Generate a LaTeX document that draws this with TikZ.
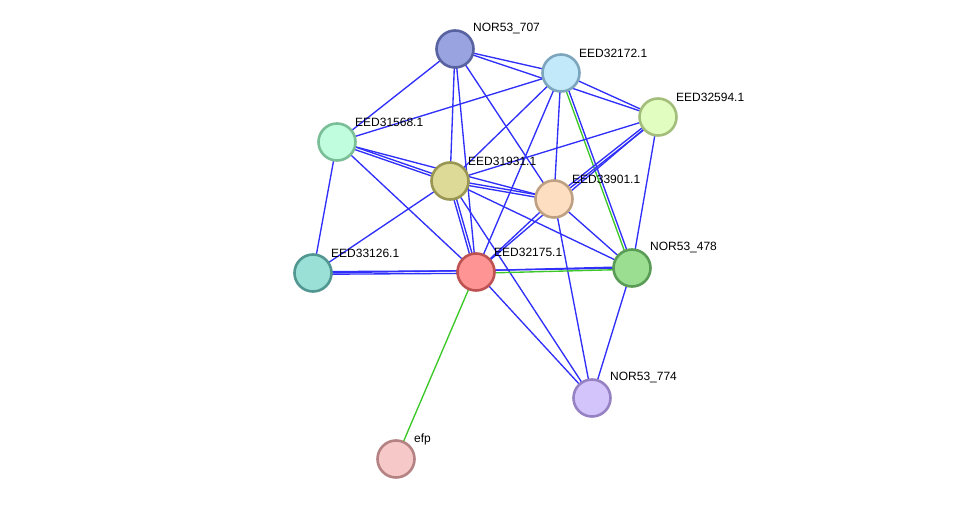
\documentclass[tikz,border=0pt]{standalone}
\usepackage{fontspec}
\setmainfont{Liberation Sans}
\usetikzlibrary{calc,backgrounds}
\definecolor{edgeblue}{RGB}{48,48,250}
\definecolor{edgegreen}{RGB}{60,200,40}
\definecolor{f707}{RGB}{153,163,224}\definecolor{b707}{RGB}{88,98,160}
\definecolor{f172}{RGB}{194,233,250}\definecolor{b172}{RGB}{124,166,190}
\definecolor{f594}{RGB}{226,253,192}\definecolor{b594}{RGB}{162,190,122}
\definecolor{f568}{RGB}{192,252,222}\definecolor{b568}{RGB}{122,190,152}
\definecolor{f931}{RGB}{220,218,150}\definecolor{b931}{RGB}{152,150,82}
\definecolor{f901}{RGB}{254,222,192}\definecolor{b901}{RGB}{190,160,130}
\definecolor{f126}{RGB}{155,224,215}\definecolor{b126}{RGB}{82,150,145}
\definecolor{f175}{RGB}{254,148,148}\definecolor{b175}{RGB}{190,82,82}
\definecolor{f478}{RGB}{155,222,145}\definecolor{b478}{RGB}{90,155,85}
\definecolor{f774}{RGB}{212,196,252}\definecolor{b774}{RGB}{150,130,195}
\definecolor{fefp}{RGB}{246,200,200}\definecolor{befp}{RGB}{180,130,130}
\tikzset{
  prot/.style={circle, minimum size=37pt, inner sep=0pt, line width=2.6pt},
  lab/.style={anchor=west, font=\fontsize{12}{14}\selectfont, inner sep=0pt},
  bl/.style={draw=edgeblue, line width=1.35pt},
  gr/.style={draw=edgegreen, line width=1.35pt},
}
\newcommand\pedge[4]{% style, offset, a, b
  \draw[#1] ($(#3.center)!#2!90:(#4.center)$) -- ($(#4.center)!#2!-90:(#3.center)$);}
\begin{document}
\begin{tikzpicture}[x=1pt,y=-1pt]
\useasboundingbox (0,0) rectangle (975,505);
\node[prot, fill=f707, draw=b707] (n707) at (455,49) {};
\node[prot, fill=f172, draw=b172] (e172) at (561,73) {};
\node[prot, fill=f594, draw=b594] (e594) at (658,117) {};
\node[prot, fill=f568, draw=b568] (e568) at (337,142) {};
\node[prot, fill=f931, draw=b931] (e931) at (450,181) {};
\node[prot, fill=f901, draw=b901] (e901) at (554,199) {};
\node[prot, fill=f126, draw=b126] (e126) at (313,273) {};
\node[prot, fill=f175, draw=b175] (e175) at (476,272) {};
\node[prot, fill=f478, draw=b478] (n478) at (632,268) {};
\node[prot, fill=f774, draw=b774] (n774) at (592,398) {};
\node[prot, fill=fefp, draw=befp] (efp) at (396,459) {};
\begin{scope}[on background layer]
  % NOR53_707
  \draw[bl] (n707.center) -- (e568.center);
  \draw[bl] (n707.center) -- (e172.center);
  \draw[bl] (n707.center) -- (e594.center);
  \draw[bl] (n707.center) -- (e931.center);
  \draw[bl] (n707.center) -- (e175.center);
  \draw[bl] (n707.center) -- (e901.center);
  % EED32172.1
  \draw[bl] (e172.center) -- (e568.center);
  \draw[bl] (e172.center) -- (e594.center);
  \draw[bl] (e172.center) -- (e931.center);
  \draw[bl] (e172.center) -- (e175.center);
  \draw[bl] (e172.center) -- (e901.center);
  \pedge{bl}{1.3pt}{e172}{n478}
  \pedge{gr}{-1.3pt}{e172}{n478}
  % EED32594.1
  \draw[bl] (e594.center) -- (e931.center);
  \pedge{bl}{1.3pt}{e594}{e901}
  \pedge{bl}{-1.3pt}{e594}{e901}
  \draw[bl] (e594.center) -- (e175.center);
  \draw[bl] (e594.center) -- (n478.center);
  % EED31568.1
  \pedge{bl}{1.3pt}{e568}{e931}
  \pedge{bl}{-1.3pt}{e568}{e931}
  \draw[bl] (e568.center) -- (e901.center);
  \draw[bl] (e568.center) -- (e175.center);
  \draw[bl] (e568.center) -- (e126.center);
  % EED31931.1
  \pedge{bl}{1.3pt}{e931}{e901}
  \pedge{bl}{-1.3pt}{e931}{e901}
  \draw[bl] (e931.center) -- (e126.center);
  \pedge{bl}{1.3pt}{e931}{e175}
  \pedge{bl}{-1.3pt}{e931}{e175}
  \draw[bl] (e931.center) -- (n478.center);
  \draw[bl] (e931.center) -- (n774.center);
  % EED33901.1
  \draw[bl] (e901.center) -- (e175.center);
  \draw[bl] (e901.center) -- (n478.center);
  \draw[bl] (e901.center) -- (n774.center);
  % EED33126.1
  \pedge{bl}{1.3pt}{e126}{e175}
  \pedge{bl}{-1.3pt}{e126}{e175}
  \draw[bl] (e126.center) -- (n478.center);
  % EED32175.1
  \pedge{bl}{1.3pt}{e175}{n478}
  \pedge{gr}{-1.3pt}{e175}{n478}
  \draw[bl] (e175.center) -- (n774.center);
  \draw[gr] (e175.center) -- (efp.center);
  % NOR53_478
  \draw[bl] (n478.center) -- (n774.center);
\end{scope}
\node[lab] (l707) at ($(n707)+(18,-20)$) {NOR53\_707};
\node[lab] (l172) at ($(e172)+(18,-20)$) {EED32172.1};
\node[lab] (l594) at ($(e594)+(18,-20)$) {EED32594.1};
\node[lab] (l568) at ($(e568)+(18,-20)$) {EED31568.1};
\node[lab] (l931) at ($(e931)+(18,-20)$) {EED31931.1};
\node[lab] (l901) at ($(e901)+(18,-20)$) {EED33901.1};
\node[lab] (l126) at ($(e126)+(18,-20)$) {EED33126.1};
\node[lab] (l175) at ($(e175)+(18,-20)$) {EED32175.1};
\node[lab] (l478) at ($(n478)+(18,-20)$) {NOR53\_478};
\node[lab] (l774) at ($(n774)+(18,-20)$) {NOR53\_774};
\node[lab] (lefp) at ($(efp)+(18,-20)$) {efp};
\end{tikzpicture}
\end{document}
